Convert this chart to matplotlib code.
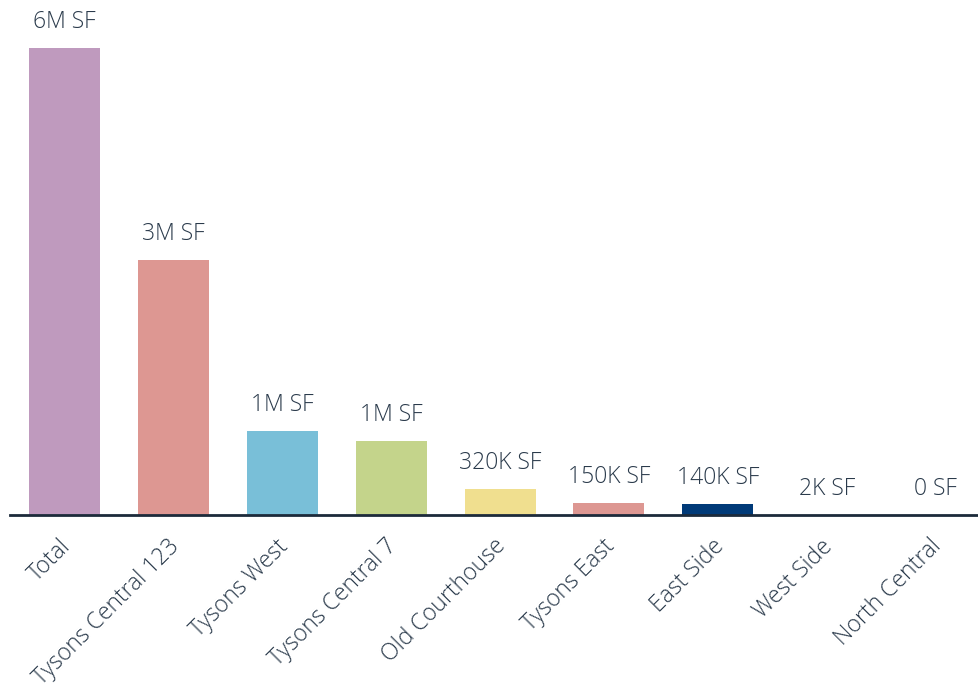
import matplotlib.pyplot as plt
import matplotlib.transforms as mtransforms

# square footage by area
areas = ["Total", "Tysons Central 123", "Tysons West", "Tysons Central 7",
         "Old Courthouse", "Tysons East", "East Side", "West Side", "North Central"]
sqft = [5920000, 3230000, 1060000, 940000, 330000, 150000, 140000, 2000, 0]
labels = ["6M SF", "3M SF", "1M SF", "1M SF", "320K SF", "150K SF", "140K SF", "2K SF", "0 SF"]
colors = ["#bf9abe", "#dd9792", "#79bfd8", "#c4d48b", "#f0df8f",
          "#dd9792", "#003a78", "#dd9792", "#dd9792"]

plt.rcParams['font.family'] = ['Open Sans', 'DejaVu Sans']
txt = "#2a3a4b"

fig = plt.figure(figsize=(9.79, 6.94), dpi=100)
ax = fig.add_axes([10/979, 1-515/694, 969/979, 515/694])

x = range(len(areas))
ax.bar(x, sqft, width=0.652, color=colors)
for i, v in enumerate(sqft):
    ax.annotate(labels[i], (i, v), xytext=(0, 10), textcoords="offset points",
                ha="center", va="bottom", fontsize=16.5, color=txt, fontweight="light")

ax.set_xlim(-0.5, -0.5 + 969/108.9)
ax.set_ylim(0, sqft[0]*515/467)
ax.set_xticks(list(x))
ax.set_xticklabels(areas, rotation=45, ha="right", rotation_mode="anchor",
                   fontsize=16.5, color=txt, fontweight="light")
ax.tick_params(axis="x", length=0, pad=14)
# nudge tick labels a little to the left
shift = mtransforms.ScaledTranslation(-0.06, 0, fig.dpi_scale_trans)
for lab in ax.get_xticklabels():
    lab.set_transform(lab.get_transform() + shift)
ax.set_yticks([])
for s in ["top", "right", "left"]:
    ax.spines[s].set_visible(False)
ax.spines["bottom"].set_color("#1c2a3a")
ax.spines["bottom"].set_linewidth(2)

fig.savefig("out.png", dpi=100)
